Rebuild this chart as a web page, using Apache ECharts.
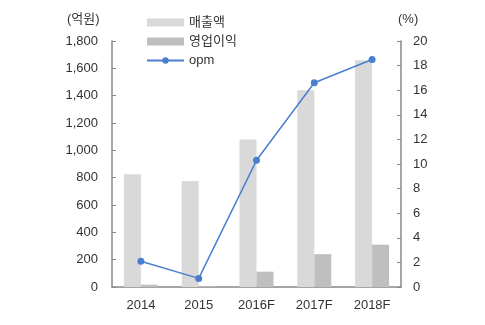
<!DOCTYPE html>
<html><head><meta charset="utf-8">
<script src="https://cdn.jsdelivr.net/npm/echarts@6/dist/echarts.min.js"></script>
<style>html,body{margin:0;padding:0;background:#fff}#c{width:485px;height:325px}</style>
</head><body><div id="c"></div>
<script>
const categories = ['2014','2015','2016F','2017F','2018F'];
const revenue = [825, 775, 1080, 1440, 1660];
const opProfit = [17, 5, 112, 240, 310];
const opm = [2.1, 0.7, 10.3, 16.6, 18.5];
const leftTicks = {min:0, max:1800, interval:200};
const rightTicks = {min:0, max:20, interval:2};

const font = "'Liberation Sans', Arial, 'Noto Sans CJK KR', sans-serif";
const chart = echarts.init(document.getElementById('c'));
chart.setOption({
  animation:false,
  textStyle:{fontFamily:font},
  grid:{left:112, right:84, top:41, bottom:38},
  legend:{
    orient:'vertical', left:141, top:11, itemWidth:37, itemHeight:8, itemGap:6,
    textStyle:{fontSize:13, color:'#333', fontFamily:font},
    data:[{name:'매출액', icon:'rect'},{name:'영업이익', icon:'rect'},{name:'opm'}]
  },
  xAxis:{
    type:'category', data:categories,
    axisLine:{lineStyle:{color:'#888', width:1.5}},
    axisTick:{inside:true, length:4, lineStyle:{color:'#888'}},
    axisLabel:{color:'#333', fontSize:13, margin:12}
  },
  yAxis:[
    {type:'value', min:leftTicks.min, max:leftTicks.max, interval:leftTicks.interval,
     axisLine:{show:true, lineStyle:{color:'#888', width:1.5}},
     axisTick:{show:true, inside:true, length:4, lineStyle:{color:'#888'}},
     splitLine:{show:false},
     axisLabel:{color:'#333', fontSize:13, margin:14, formatter:v=>v.toLocaleString('en-US')}},
    {type:'value', min:rightTicks.min, max:rightTicks.max, interval:rightTicks.interval,
     axisLine:{show:true, lineStyle:{color:'#888', width:1.5}},
     axisTick:{show:true, inside:true, length:4, lineStyle:{color:'#888'}},
     splitLine:{show:false},
     axisLabel:{color:'#333', fontSize:13, margin:12}}
  ],
  graphic:[
    {type:'text', left:67, top:13, style:{text:'(억원)', fontSize:13, fill:'#333', fontFamily:font}},
    {type:'text', left:398, top:13, style:{text:'(%)', fontSize:13, fill:'#333', fontFamily:font}}
  ],
  series:[
    {name:'매출액', type:'bar', data:revenue, barWidth:17, barGap:'0%', itemStyle:{color:'#d9d9d9'}},
    {name:'영업이익', type:'bar', data:opProfit, barWidth:17, barGap:'0%', itemStyle:{color:'#bfbfbf'}},
    {name:'opm', type:'line', yAxisIndex:1, data:opm, symbol:'circle', symbolSize:7,
     lineStyle:{color:'#4a7fd0', width:1.5}, itemStyle:{color:'#4a7fd0'}}
  ]
});
</script></body></html>
